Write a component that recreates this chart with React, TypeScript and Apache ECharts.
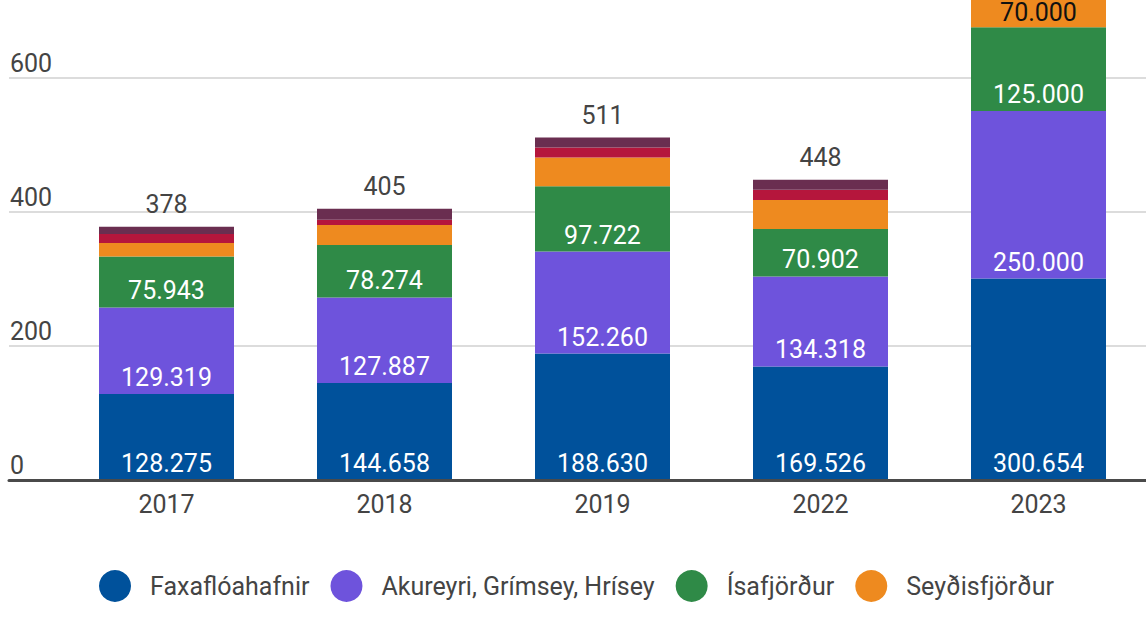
import React, { useEffect, useRef } from "react";
import * as echarts from "echarts";

const years = ["2017", "2018", "2019", "2022", "2023"];
const faxafloahafnir = [128.275, 144.658, 188.63, 169.526, 300.654];
const akureyri = [129.319, 127.887, 152.26, 134.318, 250.0];
const isafjordur = [75.943, 78.274, 97.722, 70.902, 125.0];
const seydisfjordur = [20.3, 29.9, 42.6, 43.3, 70.0];
const otherA = [13.4, 7.6, 14.9, 15.0, 15.0];
const otherB = [10.8, 16.7, 14.9, 14.95, 15.0];
const yTicks = [0, 200, 400, 600, 800];
// total labels visible in the cropped reference (2023's total lies above the frame)
const showTotal = [true, true, true, true, false];

const FONT = "Roboto";
const TXT = "#444444";

export default function App() {
  const ref = useRef<HTMLDivElement>(null);
  useEffect(() => {
    if (!ref.current) return;
    const chart = echarts.init(ref.current, null, { renderer: "svg" });
    const totals = years.map((_, i) =>
      Math.round(
        faxafloahafnir[i] + akureyri[i] + isafjordur[i] + seydisfjordur[i] + otherA[i] + otherB[i]
      )
    );
    const fmt = (p: any) => (p.value >= 50 ? Number(p.value).toFixed(3) : "");
    const inLabel = (color: string, distance: number) => ({
      show: true,
      position: "insideBottom",
      distance,
      color,
      fontFamily: FONT,
      fontSize: 25,
      lineHeight: 25,
      formatter: fmt,
    });
    const yMax = yTicks[yTicks.length - 1];
    const series: any[] = [
      { name: "Faxaflóahafnir", data: faxafloahafnir, color: "#00519b", label: inLabel("#ffffff", 4) },
      { name: "Akureyri, Grímsey, Hrísey", data: akureyri, color: "#6e53dc", label: inLabel("#ffffff", 4) },
      { name: "Ísafjörður", data: isafjordur, color: "#2f8a47", label: inLabel("#ffffff", 4) },
      { name: "Seyðisfjörður", data: seydisfjordur, color: "#ee8a1f", label: inLabel("#111111", 2) },
      { name: "Önnur höfn 1", data: otherA, color: "#b5163c", label: { show: false } },
      {
        name: "Önnur höfn 2",
        data: otherB,
        color: "#6a2e50",
        label: {
          show: true,
          position: "top",
          distance: 10,
          color: TXT,
          fontFamily: FONT,
          fontSize: 25,
          formatter: (p: any) => (showTotal[p.dataIndex] ? String(totals[p.dataIndex]) : ""),
        },
      },
    ].map((s) => ({
      ...s,
      type: "bar",
      stack: "total",
      barWidth: 135,
      xAxisIndex: 0,
      yAxisIndex: 0,
      itemStyle: { color: s.color },
      emphasis: { disabled: true },
    }));

    chart.setOption({
      animation: false,
      textStyle: { fontFamily: FONT },
      legend: {
        data: ["Faxaflóahafnir", "Akureyri, Grímsey, Hrísey", "Ísafjörður", "Seyðisfjörður"],
        left: 94,
        top: 565,
        icon: "circle",
        itemWidth: 32,
        itemHeight: 32,
        itemGap: 21,
        selectedMode: false,
        textStyle: { color: TXT, fontSize: 25, fontFamily: FONT, padding: [0, 0, 0, 14] },
      },
      grid: [
        { left: 57.5, right: -1.5, top: -56, bottom: 141, outerBoundsMode: "none", containLabel: false },
        { left: 9, right: 0, top: -56, bottom: 141, outerBoundsMode: "none", containLabel: false },
      ],
      xAxis: [
        {
          type: "category",
          gridIndex: 0,
          data: years,
          axisLine: { show: false },
          axisTick: { show: false },
          axisLabel: { color: TXT, fontSize: 25, fontFamily: FONT, margin: 12 },
        },
        {
          type: "value",
          gridIndex: 1,
          min: 0,
          max: 1,
          z: 5,
          axisLine: { show: true, lineStyle: { color: "#4a4a4a", width: 3 } },
          axisTick: { show: false },
          axisLabel: { show: false },
          splitLine: { show: false },
        },
      ],
      yAxis: [
        {
          type: "value",
          gridIndex: 0,
          min: 0,
          max: yMax,
          interval: 200,
          axisLine: { show: false },
          axisTick: { show: false },
          axisLabel: { show: false },
          splitLine: { show: false },
        },
        {
          type: "value",
          gridIndex: 1,
          min: 0,
          max: yMax,
          interval: 200,
          axisLine: { show: false },
          axisTick: { show: false },
          splitLine: { show: true, lineStyle: { color: "#dcdcdc", width: 2 } },
          axisLabel: {
            inside: true,
            margin: 1,
            align: "left",
            verticalAlign: "bottom",
            padding: [0, 0, 2, 0],
            showMaxLabel: false,
            color: TXT,
            fontSize: 25,
            fontFamily: FONT,
          },
        },
      ],
      series,
    });
    return () => chart.dispose();
  }, []);
  return (
    <div
      ref={ref}
      style={{ position: "absolute", left: 0, top: 0, width: 1146, height: 621, background: "#fff" }}
    />
  );
}
